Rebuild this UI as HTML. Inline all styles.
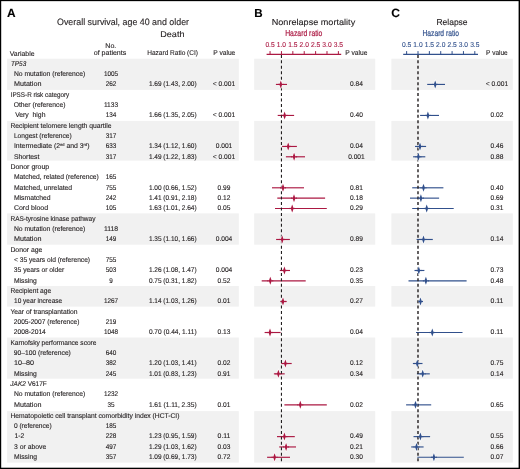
<!DOCTYPE html>
<html><head><meta charset="utf-8"><style>
html,body{margin:0;padding:0;background:#fff;}
svg{display:block;will-change:transform;}
text{font-family:"Liberation Sans", sans-serif;text-rendering:geometricPrecision;}
</style></head><body>
<svg width="520" height="469" viewBox="0 0 520 469">
<rect width="520" height="469" fill="#fff"/>
<rect x="7.1" y="58.7" width="231.70" height="31.20" fill="#f1f1f1"/>
<rect x="254.2" y="58.7" width="121.00" height="31.20" fill="#f1f1f1"/>
<rect x="391.4" y="58.7" width="121.40" height="31.20" fill="#f1f1f1"/>
<rect x="7.1" y="120.9" width="231.70" height="39.70" fill="#f1f1f1"/>
<rect x="254.2" y="120.9" width="121.00" height="39.70" fill="#f1f1f1"/>
<rect x="391.4" y="120.9" width="121.40" height="39.70" fill="#f1f1f1"/>
<rect x="7.1" y="213.4" width="231.70" height="31.30" fill="#f1f1f1"/>
<rect x="254.2" y="213.4" width="121.00" height="31.30" fill="#f1f1f1"/>
<rect x="391.4" y="213.4" width="121.40" height="31.30" fill="#f1f1f1"/>
<rect x="7.1" y="286.0" width="231.70" height="20.60" fill="#f1f1f1"/>
<rect x="254.2" y="286.0" width="121.00" height="20.60" fill="#f1f1f1"/>
<rect x="391.4" y="286.0" width="121.40" height="20.60" fill="#f1f1f1"/>
<rect x="7.1" y="337.5" width="231.70" height="41.20" fill="#f1f1f1"/>
<rect x="254.2" y="337.5" width="121.00" height="41.20" fill="#f1f1f1"/>
<rect x="391.4" y="337.5" width="121.40" height="41.20" fill="#f1f1f1"/>
<rect x="7.1" y="411.1" width="231.70" height="51.50" fill="#f1f1f1"/>
<rect x="254.2" y="411.1" width="121.00" height="51.50" fill="#f1f1f1"/>
<rect x="391.4" y="411.1" width="121.40" height="51.50" fill="#f1f1f1"/>
<text x="7.00" y="16.60" font-size="11.9" fill="#000" stroke="#000" stroke-width="0.12" font-weight="bold">A</text>
<text x="254.30" y="16.80" font-size="11.6" fill="#000" stroke="#000" stroke-width="0.12" font-weight="bold">B</text>
<text x="391.30" y="16.95" font-size="12.0" fill="#000" stroke="#000" stroke-width="0.12" font-weight="bold">C</text>
<text x="57.06" y="24.70" font-size="9.2" fill="#231f20" stroke="#231f20" stroke-width="0.12" textLength="131.99" lengthAdjust="spacingAndGlyphs">Overall survival, age 40 and older</text>
<text x="160.31" y="36.80" font-size="8.4" fill="#231f20" stroke="#231f20" stroke-width="0.12" textLength="24.18" lengthAdjust="spacingAndGlyphs">Death</text>
<text x="105.32" y="47.80" font-size="6.9" fill="#231f20" stroke="#231f20" stroke-width="0.12" textLength="10.97" lengthAdjust="spacingAndGlyphs">No.</text>
<text x="9.72" y="55.50" font-size="6.9" fill="#231f20" stroke="#231f20" stroke-width="0.12" textLength="24.87" lengthAdjust="spacingAndGlyphs">Variable</text>
<text x="93.72" y="55.40" font-size="6.9" fill="#231f20" stroke="#231f20" stroke-width="0.12" textLength="32.57" lengthAdjust="spacingAndGlyphs">of patients</text>
<text x="147.22" y="55.30" font-size="6.9" fill="#231f20" stroke="#231f20" stroke-width="0.12" textLength="50.77" lengthAdjust="spacingAndGlyphs">Hazard Ratio (CI)</text>
<text x="213.22" y="55.30" font-size="6.9" fill="#231f20" stroke="#231f20" stroke-width="0.12" textLength="22.07" lengthAdjust="spacingAndGlyphs">P value</text>
<text x="271.70" y="24.50" font-size="8.6" fill="#231f20" stroke="#231f20" stroke-width="0.12" textLength="83.50" lengthAdjust="spacingAndGlyphs">Nonrelapse mortality</text>
<text x="285.20" y="35.90" font-size="8.6" fill="#ab1842" stroke="#ab1842" stroke-width="0.2" textLength="37.20" lengthAdjust="spacingAndGlyphs">Hazard ratio</text>
<text x="345.32" y="55.20" font-size="6.9" fill="#231f20" stroke="#231f20" stroke-width="0.12" textLength="22.07" lengthAdjust="spacingAndGlyphs">P value</text>
<text x="436.40" y="24.50" font-size="8.6" fill="#231f20" stroke="#231f20" stroke-width="0.12" textLength="31.20" lengthAdjust="spacingAndGlyphs">Relapse</text>
<text x="422.50" y="35.80" font-size="8.6" fill="#31508c" stroke="#31508c" stroke-width="0.2" textLength="36.50" lengthAdjust="spacingAndGlyphs">Hazard ratio</text>
<text x="486.12" y="55.20" font-size="6.9" fill="#231f20" stroke="#231f20" stroke-width="0.12" textLength="21.57" lengthAdjust="spacingAndGlyphs">P value</text>
<line x1="266.6" y1="54.4" x2="341.2" y2="54.4" stroke="#ab1842" stroke-width="1.3"/>
<line x1="270.06" y1="51.1" x2="270.06" y2="54.4" stroke="#ab1842" stroke-width="1"/>
<text x="270.06" y="46.90" font-size="7.1" fill="#ab1842" stroke="#ab1842" stroke-width="0.12" text-anchor="middle" textLength="9.30" lengthAdjust="spacingAndGlyphs">0.5</text>
<line x1="281.45" y1="51.1" x2="281.45" y2="54.4" stroke="#ab1842" stroke-width="1"/>
<text x="281.45" y="46.90" font-size="7.1" fill="#ab1842" stroke="#ab1842" stroke-width="0.12" text-anchor="middle" textLength="9.30" lengthAdjust="spacingAndGlyphs">1.0</text>
<line x1="292.83" y1="51.1" x2="292.83" y2="54.4" stroke="#ab1842" stroke-width="1"/>
<text x="292.83" y="46.90" font-size="7.1" fill="#ab1842" stroke="#ab1842" stroke-width="0.12" text-anchor="middle" textLength="9.30" lengthAdjust="spacingAndGlyphs">1.5</text>
<line x1="304.22" y1="51.1" x2="304.22" y2="54.4" stroke="#ab1842" stroke-width="1"/>
<text x="304.22" y="46.90" font-size="7.1" fill="#ab1842" stroke="#ab1842" stroke-width="0.12" text-anchor="middle" textLength="9.30" lengthAdjust="spacingAndGlyphs">2.0</text>
<line x1="315.61" y1="51.1" x2="315.61" y2="54.4" stroke="#ab1842" stroke-width="1"/>
<text x="315.61" y="46.90" font-size="7.1" fill="#ab1842" stroke="#ab1842" stroke-width="0.12" text-anchor="middle" textLength="9.30" lengthAdjust="spacingAndGlyphs">2.5</text>
<line x1="326.99" y1="51.1" x2="326.99" y2="54.4" stroke="#ab1842" stroke-width="1"/>
<text x="326.99" y="46.90" font-size="7.1" fill="#ab1842" stroke="#ab1842" stroke-width="0.12" text-anchor="middle" textLength="9.30" lengthAdjust="spacingAndGlyphs">3.0</text>
<line x1="338.38" y1="51.1" x2="338.38" y2="54.4" stroke="#ab1842" stroke-width="1"/>
<text x="338.38" y="46.90" font-size="7.1" fill="#ab1842" stroke="#ab1842" stroke-width="0.12" text-anchor="middle" textLength="9.30" lengthAdjust="spacingAndGlyphs">3.5</text>
<line x1="403.2" y1="54.4" x2="478.0" y2="54.4" stroke="#31508c" stroke-width="1.3"/>
<line x1="406.64" y1="51.1" x2="406.64" y2="54.4" stroke="#31508c" stroke-width="1"/>
<text x="406.64" y="46.90" font-size="7.1" fill="#31508c" stroke="#31508c" stroke-width="0.12" text-anchor="middle" textLength="9.30" lengthAdjust="spacingAndGlyphs">0.5</text>
<line x1="418.00" y1="51.1" x2="418.00" y2="54.4" stroke="#31508c" stroke-width="1"/>
<text x="418.00" y="46.90" font-size="7.1" fill="#31508c" stroke="#31508c" stroke-width="0.12" text-anchor="middle" textLength="9.30" lengthAdjust="spacingAndGlyphs">1.0</text>
<line x1="429.36" y1="51.1" x2="429.36" y2="54.4" stroke="#31508c" stroke-width="1"/>
<text x="429.36" y="46.90" font-size="7.1" fill="#31508c" stroke="#31508c" stroke-width="0.12" text-anchor="middle" textLength="9.30" lengthAdjust="spacingAndGlyphs">1.5</text>
<line x1="440.72" y1="51.1" x2="440.72" y2="54.4" stroke="#31508c" stroke-width="1"/>
<text x="440.72" y="46.90" font-size="7.1" fill="#31508c" stroke="#31508c" stroke-width="0.12" text-anchor="middle" textLength="9.30" lengthAdjust="spacingAndGlyphs">2.0</text>
<line x1="452.08" y1="51.1" x2="452.08" y2="54.4" stroke="#31508c" stroke-width="1"/>
<text x="452.08" y="46.90" font-size="7.1" fill="#31508c" stroke="#31508c" stroke-width="0.12" text-anchor="middle" textLength="9.30" lengthAdjust="spacingAndGlyphs">2.5</text>
<line x1="463.44" y1="51.1" x2="463.44" y2="54.4" stroke="#31508c" stroke-width="1"/>
<text x="463.44" y="46.90" font-size="7.1" fill="#31508c" stroke="#31508c" stroke-width="0.12" text-anchor="middle" textLength="9.30" lengthAdjust="spacingAndGlyphs">3.0</text>
<line x1="474.80" y1="51.1" x2="474.80" y2="54.4" stroke="#31508c" stroke-width="1"/>
<text x="474.80" y="46.90" font-size="7.1" fill="#31508c" stroke="#31508c" stroke-width="0.12" text-anchor="middle" textLength="9.30" lengthAdjust="spacingAndGlyphs">3.5</text>
<text x="10.95" y="65.62" font-size="6.9" fill="#231f20" stroke="#231f20" stroke-width="0.12" textLength="15.30" lengthAdjust="spacingAndGlyphs" style="font-style:italic">TP53</text>
<text x="13.95" y="75.96" font-size="6.9" fill="#231f20" stroke="#231f20" stroke-width="0.12" textLength="71.30" lengthAdjust="spacingAndGlyphs" style="white-space:pre">No mutation (reference)</text>
<text x="111.00" y="75.96" font-size="6.9" fill="#231f20" stroke="#231f20" stroke-width="0.12" text-anchor="middle" textLength="14.20" lengthAdjust="spacingAndGlyphs">1005</text>
<text x="13.95" y="86.29" font-size="6.9" fill="#231f20" stroke="#231f20" stroke-width="0.12" textLength="27.50" lengthAdjust="spacingAndGlyphs" style="white-space:pre">Mutation</text>
<text x="111.00" y="86.29" font-size="6.9" fill="#231f20" stroke="#231f20" stroke-width="0.12" text-anchor="middle" textLength="10.65" lengthAdjust="spacingAndGlyphs">262</text>
<text x="172.75" y="86.29" font-size="6.9" fill="#231f20" stroke="#231f20" stroke-width="0.12" text-anchor="middle" textLength="47.70" lengthAdjust="spacingAndGlyphs">1.69 (1.43, 2.00)</text>
<text x="224.00" y="86.29" font-size="6.9" fill="#231f20" stroke="#231f20" stroke-width="0.12" text-anchor="middle" textLength="22.35" lengthAdjust="spacingAndGlyphs">&lt; 0.001</text>
<text x="356.40" y="86.29" font-size="6.9" fill="#231f20" stroke="#231f20" stroke-width="0.12" text-anchor="middle" textLength="12.85" lengthAdjust="spacingAndGlyphs">0.84</text>
<text x="497.00" y="86.29" font-size="6.9" fill="#231f20" stroke="#231f20" stroke-width="0.12" text-anchor="middle" textLength="22.35" lengthAdjust="spacingAndGlyphs">&lt; 0.001</text>
<text x="10.65" y="96.63" font-size="6.9" fill="#231f20" stroke="#231f20" stroke-width="0.12" textLength="58.60" lengthAdjust="spacingAndGlyphs" style="white-space:pre">IPSS-R risk category</text>
<text x="13.75" y="106.96" font-size="6.9" fill="#231f20" stroke="#231f20" stroke-width="0.12" textLength="51.70" lengthAdjust="spacingAndGlyphs" style="white-space:pre">Other (reference)</text>
<text x="111.00" y="106.96" font-size="6.9" fill="#231f20" stroke="#231f20" stroke-width="0.12" text-anchor="middle" textLength="14.20" lengthAdjust="spacingAndGlyphs">1133</text>
<text x="15.15" y="117.30" font-size="6.9" fill="#231f20" stroke="#231f20" stroke-width="0.12" textLength="30.30" lengthAdjust="spacingAndGlyphs" style="white-space:pre">Very  high</text>
<text x="111.00" y="117.30" font-size="6.9" fill="#231f20" stroke="#231f20" stroke-width="0.12" text-anchor="middle" textLength="10.65" lengthAdjust="spacingAndGlyphs">134</text>
<text x="172.75" y="117.30" font-size="6.9" fill="#231f20" stroke="#231f20" stroke-width="0.12" text-anchor="middle" textLength="47.70" lengthAdjust="spacingAndGlyphs">1.66 (1.35, 2.05)</text>
<text x="224.00" y="117.30" font-size="6.9" fill="#231f20" stroke="#231f20" stroke-width="0.12" text-anchor="middle" textLength="22.35" lengthAdjust="spacingAndGlyphs">&lt; 0.001</text>
<text x="356.40" y="117.30" font-size="6.9" fill="#231f20" stroke="#231f20" stroke-width="0.12" text-anchor="middle" textLength="12.85" lengthAdjust="spacingAndGlyphs">0.40</text>
<text x="497.00" y="117.30" font-size="6.9" fill="#231f20" stroke="#231f20" stroke-width="0.12" text-anchor="middle" textLength="12.85" lengthAdjust="spacingAndGlyphs">0.02</text>
<text x="10.45" y="127.64" font-size="6.9" fill="#231f20" stroke="#231f20" stroke-width="0.12" textLength="101.00" lengthAdjust="spacingAndGlyphs" style="white-space:pre">Recipient telomere length quartile</text>
<text x="13.95" y="137.97" font-size="6.9" fill="#231f20" stroke="#231f20" stroke-width="0.12" textLength="57.80" lengthAdjust="spacingAndGlyphs" style="white-space:pre">Longest (reference)</text>
<text x="111.00" y="137.97" font-size="6.9" fill="#231f20" stroke="#231f20" stroke-width="0.12" text-anchor="middle" textLength="10.65" lengthAdjust="spacingAndGlyphs">317</text>
<text x="13.95" y="148.31" font-size="6.9" fill="#231f20" stroke="#231f20" stroke-width="0.12" textLength="75.50" lengthAdjust="spacingAndGlyphs">Intermediate (2<tspan font-size="4" dy="-2.6">nd</tspan><tspan dy="2.6"> and 3</tspan><tspan font-size="4" dy="-2.6">rd</tspan><tspan dy="2.6">)</tspan></text>
<text x="111.00" y="148.31" font-size="6.9" fill="#231f20" stroke="#231f20" stroke-width="0.12" text-anchor="middle" textLength="10.65" lengthAdjust="spacingAndGlyphs">633</text>
<text x="172.75" y="148.31" font-size="6.9" fill="#231f20" stroke="#231f20" stroke-width="0.12" text-anchor="middle" textLength="47.70" lengthAdjust="spacingAndGlyphs">1.34 (1.12, 1.60)</text>
<text x="224.00" y="148.31" font-size="6.9" fill="#231f20" stroke="#231f20" stroke-width="0.12" text-anchor="middle" textLength="16.55" lengthAdjust="spacingAndGlyphs">0.001</text>
<text x="356.40" y="148.31" font-size="6.9" fill="#231f20" stroke="#231f20" stroke-width="0.12" text-anchor="middle" textLength="12.85" lengthAdjust="spacingAndGlyphs">0.04</text>
<text x="497.00" y="148.31" font-size="6.9" fill="#231f20" stroke="#231f20" stroke-width="0.12" text-anchor="middle" textLength="12.85" lengthAdjust="spacingAndGlyphs">0.46</text>
<text x="13.95" y="158.64" font-size="6.9" fill="#231f20" stroke="#231f20" stroke-width="0.12" textLength="25.50" lengthAdjust="spacingAndGlyphs" style="white-space:pre">Shortest</text>
<text x="111.00" y="158.64" font-size="6.9" fill="#231f20" stroke="#231f20" stroke-width="0.12" text-anchor="middle" textLength="10.65" lengthAdjust="spacingAndGlyphs">317</text>
<text x="172.75" y="158.64" font-size="6.9" fill="#231f20" stroke="#231f20" stroke-width="0.12" text-anchor="middle" textLength="47.70" lengthAdjust="spacingAndGlyphs">1.49 (1.22, 1.83)</text>
<text x="224.00" y="158.64" font-size="6.9" fill="#231f20" stroke="#231f20" stroke-width="0.12" text-anchor="middle" textLength="22.35" lengthAdjust="spacingAndGlyphs">&lt; 0.001</text>
<text x="356.40" y="158.64" font-size="6.9" fill="#231f20" stroke="#231f20" stroke-width="0.12" text-anchor="middle" textLength="16.55" lengthAdjust="spacingAndGlyphs">0.001</text>
<text x="497.00" y="158.64" font-size="6.9" fill="#231f20" stroke="#231f20" stroke-width="0.12" text-anchor="middle" textLength="12.85" lengthAdjust="spacingAndGlyphs">0.88</text>
<text x="10.45" y="168.98" font-size="6.9" fill="#231f20" stroke="#231f20" stroke-width="0.12" textLength="38.80" lengthAdjust="spacingAndGlyphs" style="white-space:pre">Donor group</text>
<text x="13.95" y="179.32" font-size="6.9" fill="#231f20" stroke="#231f20" stroke-width="0.12" textLength="84.80" lengthAdjust="spacingAndGlyphs" style="white-space:pre">Matched, related (reference)</text>
<text x="111.00" y="179.32" font-size="6.9" fill="#231f20" stroke="#231f20" stroke-width="0.12" text-anchor="middle" textLength="10.65" lengthAdjust="spacingAndGlyphs">165</text>
<text x="13.95" y="189.65" font-size="6.9" fill="#231f20" stroke="#231f20" stroke-width="0.12" textLength="58.20" lengthAdjust="spacingAndGlyphs" style="white-space:pre">Matched, unrelated</text>
<text x="111.00" y="189.65" font-size="6.9" fill="#231f20" stroke="#231f20" stroke-width="0.12" text-anchor="middle" textLength="10.65" lengthAdjust="spacingAndGlyphs">755</text>
<text x="172.75" y="189.65" font-size="6.9" fill="#231f20" stroke="#231f20" stroke-width="0.12" text-anchor="middle" textLength="47.70" lengthAdjust="spacingAndGlyphs">1.00 (0.66, 1.52)</text>
<text x="224.00" y="189.65" font-size="6.9" fill="#231f20" stroke="#231f20" stroke-width="0.12" text-anchor="middle" textLength="12.85" lengthAdjust="spacingAndGlyphs">0.99</text>
<text x="356.40" y="189.65" font-size="6.9" fill="#231f20" stroke="#231f20" stroke-width="0.12" text-anchor="middle" textLength="12.85" lengthAdjust="spacingAndGlyphs">0.81</text>
<text x="497.00" y="189.65" font-size="6.9" fill="#231f20" stroke="#231f20" stroke-width="0.12" text-anchor="middle" textLength="12.85" lengthAdjust="spacingAndGlyphs">0.40</text>
<text x="13.95" y="199.99" font-size="6.9" fill="#231f20" stroke="#231f20" stroke-width="0.12" textLength="36.70" lengthAdjust="spacingAndGlyphs" style="white-space:pre">Mismatched</text>
<text x="111.00" y="199.99" font-size="6.9" fill="#231f20" stroke="#231f20" stroke-width="0.12" text-anchor="middle" textLength="10.65" lengthAdjust="spacingAndGlyphs">242</text>
<text x="172.75" y="199.99" font-size="6.9" fill="#231f20" stroke="#231f20" stroke-width="0.12" text-anchor="middle" textLength="47.70" lengthAdjust="spacingAndGlyphs">1.41 (0.91, 2.18)</text>
<text x="224.00" y="199.99" font-size="6.9" fill="#231f20" stroke="#231f20" stroke-width="0.12" text-anchor="middle" textLength="12.85" lengthAdjust="spacingAndGlyphs">0.12</text>
<text x="356.40" y="199.99" font-size="6.9" fill="#231f20" stroke="#231f20" stroke-width="0.12" text-anchor="middle" textLength="12.85" lengthAdjust="spacingAndGlyphs">0.18</text>
<text x="497.00" y="199.99" font-size="6.9" fill="#231f20" stroke="#231f20" stroke-width="0.12" text-anchor="middle" textLength="12.85" lengthAdjust="spacingAndGlyphs">0.69</text>
<text x="13.95" y="210.32" font-size="6.9" fill="#231f20" stroke="#231f20" stroke-width="0.12" textLength="34.20" lengthAdjust="spacingAndGlyphs" style="white-space:pre">Cord blood</text>
<text x="111.00" y="210.32" font-size="6.9" fill="#231f20" stroke="#231f20" stroke-width="0.12" text-anchor="middle" textLength="10.65" lengthAdjust="spacingAndGlyphs">105</text>
<text x="172.75" y="210.32" font-size="6.9" fill="#231f20" stroke="#231f20" stroke-width="0.12" text-anchor="middle" textLength="47.70" lengthAdjust="spacingAndGlyphs">1.63 (1.01, 2.64)</text>
<text x="224.00" y="210.32" font-size="6.9" fill="#231f20" stroke="#231f20" stroke-width="0.12" text-anchor="middle" textLength="12.85" lengthAdjust="spacingAndGlyphs">0.05</text>
<text x="356.40" y="210.32" font-size="6.9" fill="#231f20" stroke="#231f20" stroke-width="0.12" text-anchor="middle" textLength="12.85" lengthAdjust="spacingAndGlyphs">0.29</text>
<text x="497.00" y="210.32" font-size="6.9" fill="#231f20" stroke="#231f20" stroke-width="0.12" text-anchor="middle" textLength="12.85" lengthAdjust="spacingAndGlyphs">0.31</text>
<text x="10.45" y="220.66" font-size="6.9" fill="#231f20" stroke="#231f20" stroke-width="0.12" textLength="85.00" lengthAdjust="spacingAndGlyphs" style="white-space:pre">RAS-tyrosine kinase pathway</text>
<text x="13.95" y="231.00" font-size="6.9" fill="#231f20" stroke="#231f20" stroke-width="0.12" textLength="71.30" lengthAdjust="spacingAndGlyphs" style="white-space:pre">No mutation (reference)</text>
<text x="111.00" y="231.00" font-size="6.9" fill="#231f20" stroke="#231f20" stroke-width="0.12" text-anchor="middle" textLength="14.20" lengthAdjust="spacingAndGlyphs">1118</text>
<text x="13.95" y="241.33" font-size="6.9" fill="#231f20" stroke="#231f20" stroke-width="0.12" textLength="27.50" lengthAdjust="spacingAndGlyphs" style="white-space:pre">Mutation</text>
<text x="111.00" y="241.33" font-size="6.9" fill="#231f20" stroke="#231f20" stroke-width="0.12" text-anchor="middle" textLength="10.65" lengthAdjust="spacingAndGlyphs">149</text>
<text x="172.75" y="241.33" font-size="6.9" fill="#231f20" stroke="#231f20" stroke-width="0.12" text-anchor="middle" textLength="47.70" lengthAdjust="spacingAndGlyphs">1.35 (1.10, 1.66)</text>
<text x="224.00" y="241.33" font-size="6.9" fill="#231f20" stroke="#231f20" stroke-width="0.12" text-anchor="middle" textLength="16.55" lengthAdjust="spacingAndGlyphs">0.004</text>
<text x="356.40" y="241.33" font-size="6.9" fill="#231f20" stroke="#231f20" stroke-width="0.12" text-anchor="middle" textLength="12.85" lengthAdjust="spacingAndGlyphs">0.89</text>
<text x="497.00" y="241.33" font-size="6.9" fill="#231f20" stroke="#231f20" stroke-width="0.12" text-anchor="middle" textLength="12.85" lengthAdjust="spacingAndGlyphs">0.14</text>
<text x="10.45" y="251.67" font-size="6.9" fill="#231f20" stroke="#231f20" stroke-width="0.12" textLength="31.90" lengthAdjust="spacingAndGlyphs" style="white-space:pre">Donor age</text>
<text x="14.05" y="262.00" font-size="6.9" fill="#231f20" stroke="#231f20" stroke-width="0.12" textLength="76.00" lengthAdjust="spacingAndGlyphs" style="white-space:pre">&lt; 35 years old (reference)</text>
<text x="111.00" y="262.00" font-size="6.9" fill="#231f20" stroke="#231f20" stroke-width="0.12" text-anchor="middle" textLength="10.65" lengthAdjust="spacingAndGlyphs">755</text>
<text x="13.85" y="272.34" font-size="6.9" fill="#231f20" stroke="#231f20" stroke-width="0.12" textLength="50.30" lengthAdjust="spacingAndGlyphs" style="white-space:pre">35 years or older</text>
<text x="111.00" y="272.34" font-size="6.9" fill="#231f20" stroke="#231f20" stroke-width="0.12" text-anchor="middle" textLength="10.65" lengthAdjust="spacingAndGlyphs">503</text>
<text x="172.75" y="272.34" font-size="6.9" fill="#231f20" stroke="#231f20" stroke-width="0.12" text-anchor="middle" textLength="47.70" lengthAdjust="spacingAndGlyphs">1.26 (1.08, 1.47)</text>
<text x="224.00" y="272.34" font-size="6.9" fill="#231f20" stroke="#231f20" stroke-width="0.12" text-anchor="middle" textLength="16.55" lengthAdjust="spacingAndGlyphs">0.004</text>
<text x="356.40" y="272.34" font-size="6.9" fill="#231f20" stroke="#231f20" stroke-width="0.12" text-anchor="middle" textLength="12.85" lengthAdjust="spacingAndGlyphs">0.23</text>
<text x="497.00" y="272.34" font-size="6.9" fill="#231f20" stroke="#231f20" stroke-width="0.12" text-anchor="middle" textLength="12.85" lengthAdjust="spacingAndGlyphs">0.73</text>
<text x="13.95" y="282.68" font-size="6.9" fill="#231f20" stroke="#231f20" stroke-width="0.12" textLength="22.80" lengthAdjust="spacingAndGlyphs" style="white-space:pre">Missing</text>
<text x="111.00" y="282.68" font-size="6.9" fill="#231f20" stroke="#231f20" stroke-width="0.12" text-anchor="middle" textLength="3.55" lengthAdjust="spacingAndGlyphs">9</text>
<text x="172.75" y="282.68" font-size="6.9" fill="#231f20" stroke="#231f20" stroke-width="0.12" text-anchor="middle" textLength="47.70" lengthAdjust="spacingAndGlyphs">0.75 (0.31, 1.82)</text>
<text x="224.00" y="282.68" font-size="6.9" fill="#231f20" stroke="#231f20" stroke-width="0.12" text-anchor="middle" textLength="12.85" lengthAdjust="spacingAndGlyphs">0.52</text>
<text x="356.40" y="282.68" font-size="6.9" fill="#231f20" stroke="#231f20" stroke-width="0.12" text-anchor="middle" textLength="12.85" lengthAdjust="spacingAndGlyphs">0.35</text>
<text x="497.00" y="282.68" font-size="6.9" fill="#231f20" stroke="#231f20" stroke-width="0.12" text-anchor="middle" textLength="12.85" lengthAdjust="spacingAndGlyphs">0.48</text>
<text x="10.45" y="293.01" font-size="6.9" fill="#231f20" stroke="#231f20" stroke-width="0.12" textLength="40.80" lengthAdjust="spacingAndGlyphs" style="white-space:pre">Recipient age</text>
<text x="14.05" y="303.35" font-size="6.9" fill="#231f20" stroke="#231f20" stroke-width="0.12" textLength="48.10" lengthAdjust="spacingAndGlyphs" style="white-space:pre">10 year increase</text>
<text x="111.00" y="303.35" font-size="6.9" fill="#231f20" stroke="#231f20" stroke-width="0.12" text-anchor="middle" textLength="14.20" lengthAdjust="spacingAndGlyphs">1267</text>
<text x="172.75" y="303.35" font-size="6.9" fill="#231f20" stroke="#231f20" stroke-width="0.12" text-anchor="middle" textLength="47.70" lengthAdjust="spacingAndGlyphs">1.14 (1.03, 1.26)</text>
<text x="224.00" y="303.35" font-size="6.9" fill="#231f20" stroke="#231f20" stroke-width="0.12" text-anchor="middle" textLength="12.85" lengthAdjust="spacingAndGlyphs">0.01</text>
<text x="356.40" y="303.35" font-size="6.9" fill="#231f20" stroke="#231f20" stroke-width="0.12" text-anchor="middle" textLength="12.85" lengthAdjust="spacingAndGlyphs">0.27</text>
<text x="497.00" y="303.35" font-size="6.9" fill="#231f20" stroke="#231f20" stroke-width="0.12" text-anchor="middle" textLength="12.85" lengthAdjust="spacingAndGlyphs">0.11</text>
<text x="10.45" y="313.68" font-size="6.9" fill="#231f20" stroke="#231f20" stroke-width="0.12" textLength="67.10" lengthAdjust="spacingAndGlyphs" style="white-space:pre">Year of transplantation</text>
<text x="13.85" y="324.02" font-size="6.9" fill="#231f20" stroke="#231f20" stroke-width="0.12" textLength="65.60" lengthAdjust="spacingAndGlyphs" style="white-space:pre">2005-2007 (reference)</text>
<text x="111.00" y="324.02" font-size="6.9" fill="#231f20" stroke="#231f20" stroke-width="0.12" text-anchor="middle" textLength="10.65" lengthAdjust="spacingAndGlyphs">219</text>
<text x="13.85" y="334.36" font-size="6.9" fill="#231f20" stroke="#231f20" stroke-width="0.12" textLength="32.00" lengthAdjust="spacingAndGlyphs" style="white-space:pre">2008-2014</text>
<text x="111.00" y="334.36" font-size="6.9" fill="#231f20" stroke="#231f20" stroke-width="0.12" text-anchor="middle" textLength="14.20" lengthAdjust="spacingAndGlyphs">1048</text>
<text x="172.75" y="334.36" font-size="6.9" fill="#231f20" stroke="#231f20" stroke-width="0.12" text-anchor="middle" textLength="47.70" lengthAdjust="spacingAndGlyphs">0.70 (0.44, 1.11)</text>
<text x="224.00" y="334.36" font-size="6.9" fill="#231f20" stroke="#231f20" stroke-width="0.12" text-anchor="middle" textLength="12.85" lengthAdjust="spacingAndGlyphs">0.13</text>
<text x="356.40" y="334.36" font-size="6.9" fill="#231f20" stroke="#231f20" stroke-width="0.12" text-anchor="middle" textLength="12.85" lengthAdjust="spacingAndGlyphs">0.04</text>
<text x="497.00" y="334.36" font-size="6.9" fill="#231f20" stroke="#231f20" stroke-width="0.12" text-anchor="middle" textLength="12.85" lengthAdjust="spacingAndGlyphs">0.11</text>
<text x="10.45" y="344.69" font-size="6.9" fill="#231f20" stroke="#231f20" stroke-width="0.12" textLength="86.00" lengthAdjust="spacingAndGlyphs" style="white-space:pre">Karnofsky performance score</text>
<text x="13.85" y="355.03" font-size="6.9" fill="#231f20" stroke="#231f20" stroke-width="0.12" textLength="57.00" lengthAdjust="spacingAndGlyphs" style="white-space:pre">90–100 (reference)</text>
<text x="111.00" y="355.03" font-size="6.9" fill="#231f20" stroke="#231f20" stroke-width="0.12" text-anchor="middle" textLength="10.65" lengthAdjust="spacingAndGlyphs">640</text>
<text x="13.95" y="365.36" font-size="6.9" fill="#231f20" stroke="#231f20" stroke-width="0.12" textLength="20.00" lengthAdjust="spacingAndGlyphs" style="white-space:pre">10–80</text>
<text x="111.00" y="365.36" font-size="6.9" fill="#231f20" stroke="#231f20" stroke-width="0.12" text-anchor="middle" textLength="10.65" lengthAdjust="spacingAndGlyphs">382</text>
<text x="172.75" y="365.36" font-size="6.9" fill="#231f20" stroke="#231f20" stroke-width="0.12" text-anchor="middle" textLength="47.70" lengthAdjust="spacingAndGlyphs">1.20 (1.03, 1.41)</text>
<text x="224.00" y="365.36" font-size="6.9" fill="#231f20" stroke="#231f20" stroke-width="0.12" text-anchor="middle" textLength="12.85" lengthAdjust="spacingAndGlyphs">0.02</text>
<text x="356.40" y="365.36" font-size="6.9" fill="#231f20" stroke="#231f20" stroke-width="0.12" text-anchor="middle" textLength="12.85" lengthAdjust="spacingAndGlyphs">0.12</text>
<text x="497.00" y="365.36" font-size="6.9" fill="#231f20" stroke="#231f20" stroke-width="0.12" text-anchor="middle" textLength="12.85" lengthAdjust="spacingAndGlyphs">0.75</text>
<text x="13.95" y="375.70" font-size="6.9" fill="#231f20" stroke="#231f20" stroke-width="0.12" textLength="22.80" lengthAdjust="spacingAndGlyphs" style="white-space:pre">Missing</text>
<text x="111.00" y="375.70" font-size="6.9" fill="#231f20" stroke="#231f20" stroke-width="0.12" text-anchor="middle" textLength="10.65" lengthAdjust="spacingAndGlyphs">245</text>
<text x="172.75" y="375.70" font-size="6.9" fill="#231f20" stroke="#231f20" stroke-width="0.12" text-anchor="middle" textLength="47.70" lengthAdjust="spacingAndGlyphs">1.01 (0.83, 1.23)</text>
<text x="224.00" y="375.70" font-size="6.9" fill="#231f20" stroke="#231f20" stroke-width="0.12" text-anchor="middle" textLength="12.85" lengthAdjust="spacingAndGlyphs">0.91</text>
<text x="356.40" y="375.70" font-size="6.9" fill="#231f20" stroke="#231f20" stroke-width="0.12" text-anchor="middle" textLength="12.85" lengthAdjust="spacingAndGlyphs">0.34</text>
<text x="497.00" y="375.70" font-size="6.9" fill="#231f20" stroke="#231f20" stroke-width="0.12" text-anchor="middle" textLength="12.85" lengthAdjust="spacingAndGlyphs">0.14</text>
<text x="10.35" y="386.04" font-size="6.9" fill="#231f20" stroke="#231f20" stroke-width="0.12" textLength="36.40" lengthAdjust="spacingAndGlyphs"><tspan font-style="italic">JAK2</tspan> V617F</text>
<text x="13.95" y="396.37" font-size="6.9" fill="#231f20" stroke="#231f20" stroke-width="0.12" textLength="71.30" lengthAdjust="spacingAndGlyphs" style="white-space:pre">No mutation (reference)</text>
<text x="111.00" y="396.37" font-size="6.9" fill="#231f20" stroke="#231f20" stroke-width="0.12" text-anchor="middle" textLength="14.20" lengthAdjust="spacingAndGlyphs">1232</text>
<text x="13.95" y="406.71" font-size="6.9" fill="#231f20" stroke="#231f20" stroke-width="0.12" textLength="27.50" lengthAdjust="spacingAndGlyphs" style="white-space:pre">Mutation</text>
<text x="111.00" y="406.71" font-size="6.9" fill="#231f20" stroke="#231f20" stroke-width="0.12" text-anchor="middle" textLength="7.10" lengthAdjust="spacingAndGlyphs">35</text>
<text x="172.75" y="406.71" font-size="6.9" fill="#231f20" stroke="#231f20" stroke-width="0.12" text-anchor="middle" textLength="47.70" lengthAdjust="spacingAndGlyphs">1.61 (1.11, 2.35)</text>
<text x="224.00" y="406.71" font-size="6.9" fill="#231f20" stroke="#231f20" stroke-width="0.12" text-anchor="middle" textLength="12.85" lengthAdjust="spacingAndGlyphs">0.01</text>
<text x="356.40" y="406.71" font-size="6.9" fill="#231f20" stroke="#231f20" stroke-width="0.12" text-anchor="middle" textLength="12.85" lengthAdjust="spacingAndGlyphs">0.02</text>
<text x="497.00" y="406.71" font-size="6.9" fill="#231f20" stroke="#231f20" stroke-width="0.12" text-anchor="middle" textLength="12.85" lengthAdjust="spacingAndGlyphs">0.65</text>
<text x="10.45" y="417.79" font-size="6.9" fill="#231f20" stroke="#231f20" stroke-width="0.12" textLength="169.00" lengthAdjust="spacingAndGlyphs" style="white-space:pre">Hematopoietic cell transplant comorbidity index (HCT-CI)</text>
<text x="13.95" y="428.13" font-size="6.9" fill="#231f20" stroke="#231f20" stroke-width="0.12" textLength="37.70" lengthAdjust="spacingAndGlyphs" style="white-space:pre">0 (reference)</text>
<text x="111.00" y="428.13" font-size="6.9" fill="#231f20" stroke="#231f20" stroke-width="0.12" text-anchor="middle" textLength="10.65" lengthAdjust="spacingAndGlyphs">185</text>
<text x="14.45" y="438.47" font-size="6.9" fill="#231f20" stroke="#231f20" stroke-width="0.12" textLength="9.80" lengthAdjust="spacingAndGlyphs" style="white-space:pre">1-2</text>
<text x="111.00" y="438.47" font-size="6.9" fill="#231f20" stroke="#231f20" stroke-width="0.12" text-anchor="middle" textLength="10.65" lengthAdjust="spacingAndGlyphs">228</text>
<text x="172.75" y="438.47" font-size="6.9" fill="#231f20" stroke="#231f20" stroke-width="0.12" text-anchor="middle" textLength="47.70" lengthAdjust="spacingAndGlyphs">1.23 (0.95, 1.59)</text>
<text x="224.00" y="438.47" font-size="6.9" fill="#231f20" stroke="#231f20" stroke-width="0.12" text-anchor="middle" textLength="12.85" lengthAdjust="spacingAndGlyphs">0.11</text>
<text x="356.40" y="438.47" font-size="6.9" fill="#231f20" stroke="#231f20" stroke-width="0.12" text-anchor="middle" textLength="12.85" lengthAdjust="spacingAndGlyphs">0.49</text>
<text x="497.00" y="438.47" font-size="6.9" fill="#231f20" stroke="#231f20" stroke-width="0.12" text-anchor="middle" textLength="12.85" lengthAdjust="spacingAndGlyphs">0.55</text>
<text x="14.05" y="448.80" font-size="6.9" fill="#231f20" stroke="#231f20" stroke-width="0.12" textLength="32.20" lengthAdjust="spacingAndGlyphs" style="white-space:pre">3 or above</text>
<text x="111.00" y="448.80" font-size="6.9" fill="#231f20" stroke="#231f20" stroke-width="0.12" text-anchor="middle" textLength="10.65" lengthAdjust="spacingAndGlyphs">497</text>
<text x="172.75" y="448.80" font-size="6.9" fill="#231f20" stroke="#231f20" stroke-width="0.12" text-anchor="middle" textLength="47.70" lengthAdjust="spacingAndGlyphs">1.29 (1.03, 1.62)</text>
<text x="224.00" y="448.80" font-size="6.9" fill="#231f20" stroke="#231f20" stroke-width="0.12" text-anchor="middle" textLength="12.85" lengthAdjust="spacingAndGlyphs">0.03</text>
<text x="356.40" y="448.80" font-size="6.9" fill="#231f20" stroke="#231f20" stroke-width="0.12" text-anchor="middle" textLength="12.85" lengthAdjust="spacingAndGlyphs">0.21</text>
<text x="497.00" y="448.80" font-size="6.9" fill="#231f20" stroke="#231f20" stroke-width="0.12" text-anchor="middle" textLength="12.85" lengthAdjust="spacingAndGlyphs">0.66</text>
<text x="14.05" y="459.14" font-size="6.9" fill="#231f20" stroke="#231f20" stroke-width="0.12" textLength="22.90" lengthAdjust="spacingAndGlyphs" style="white-space:pre">Missing</text>
<text x="111.00" y="459.14" font-size="6.9" fill="#231f20" stroke="#231f20" stroke-width="0.12" text-anchor="middle" textLength="10.65" lengthAdjust="spacingAndGlyphs">357</text>
<text x="172.75" y="459.14" font-size="6.9" fill="#231f20" stroke="#231f20" stroke-width="0.12" text-anchor="middle" textLength="47.70" lengthAdjust="spacingAndGlyphs">1.09 (0.69, 1.73)</text>
<text x="224.00" y="459.14" font-size="6.9" fill="#231f20" stroke="#231f20" stroke-width="0.12" text-anchor="middle" textLength="12.85" lengthAdjust="spacingAndGlyphs">0.72</text>
<text x="356.40" y="459.14" font-size="6.9" fill="#231f20" stroke="#231f20" stroke-width="0.12" text-anchor="middle" textLength="12.85" lengthAdjust="spacingAndGlyphs">0.30</text>
<text x="497.00" y="459.14" font-size="6.9" fill="#231f20" stroke="#231f20" stroke-width="0.12" text-anchor="middle" textLength="12.85" lengthAdjust="spacingAndGlyphs">0.07</text>
<line x1="275.9" y1="84.44" x2="287.0" y2="84.44" stroke="#ab1842" stroke-width="1.15"/>
<line x1="277.7" y1="115.45" x2="294.1" y2="115.45" stroke="#ab1842" stroke-width="1.15"/>
<line x1="282.1" y1="146.46" x2="296.9" y2="146.46" stroke="#ab1842" stroke-width="1.15"/>
<line x1="285.9" y1="156.79" x2="305.0" y2="156.79" stroke="#ab1842" stroke-width="1.15"/>
<line x1="272.0" y1="187.80" x2="304.0" y2="187.80" stroke="#ab1842" stroke-width="1.15"/>
<line x1="277.3" y1="198.14" x2="325.1" y2="198.14" stroke="#ab1842" stroke-width="1.15"/>
<line x1="275.0" y1="208.47" x2="326.8" y2="208.47" stroke="#ab1842" stroke-width="1.15"/>
<line x1="276.1" y1="239.48" x2="289.9" y2="239.48" stroke="#ab1842" stroke-width="1.15"/>
<line x1="279.8" y1="270.49" x2="290.0" y2="270.49" stroke="#ab1842" stroke-width="1.15"/>
<line x1="261.7" y1="280.83" x2="305.7" y2="280.83" stroke="#ab1842" stroke-width="1.15"/>
<line x1="280.6" y1="301.50" x2="286.7" y2="301.50" stroke="#ab1842" stroke-width="1.15"/>
<line x1="264.6" y1="332.51" x2="280.6" y2="332.51" stroke="#ab1842" stroke-width="1.15"/>
<line x1="281.2" y1="363.51" x2="291.7" y2="363.51" stroke="#ab1842" stroke-width="1.15"/>
<line x1="273.9" y1="373.85" x2="284.7" y2="373.85" stroke="#ab1842" stroke-width="1.15"/>
<line x1="284.4" y1="404.86" x2="326.8" y2="404.86" stroke="#ab1842" stroke-width="1.15"/>
<line x1="277.0" y1="436.62" x2="294.8" y2="436.62" stroke="#ab1842" stroke-width="1.15"/>
<line x1="279.2" y1="446.95" x2="296.0" y2="446.95" stroke="#ab1842" stroke-width="1.15"/>
<line x1="267.1" y1="457.29" x2="290.0" y2="457.29" stroke="#ab1842" stroke-width="1.15"/>
<line x1="427.2" y1="84.44" x2="445.0" y2="84.44" stroke="#31508c" stroke-width="1.15"/>
<line x1="420.1" y1="115.45" x2="439.0" y2="115.45" stroke="#31508c" stroke-width="1.15"/>
<line x1="415.0" y1="146.46" x2="426.1" y2="146.46" stroke="#31508c" stroke-width="1.15"/>
<line x1="413.1" y1="156.79" x2="425.3" y2="156.79" stroke="#31508c" stroke-width="1.15"/>
<line x1="412.2" y1="187.80" x2="443.4" y2="187.80" stroke="#31508c" stroke-width="1.15"/>
<line x1="410.0" y1="198.14" x2="439.1" y2="198.14" stroke="#31508c" stroke-width="1.15"/>
<line x1="412.2" y1="208.47" x2="453.7" y2="208.47" stroke="#31508c" stroke-width="1.15"/>
<line x1="416.6" y1="239.48" x2="432.8" y2="239.48" stroke="#31508c" stroke-width="1.15"/>
<line x1="414.5" y1="270.49" x2="424.4" y2="270.49" stroke="#31508c" stroke-width="1.15"/>
<line x1="408.5" y1="280.83" x2="466.6" y2="280.83" stroke="#31508c" stroke-width="1.15"/>
<line x1="418.3" y1="301.50" x2="423.0" y2="301.50" stroke="#31508c" stroke-width="1.15"/>
<line x1="416.0" y1="332.51" x2="462.5" y2="332.51" stroke="#31508c" stroke-width="1.15"/>
<line x1="412.9" y1="363.51" x2="422.5" y2="363.51" stroke="#31508c" stroke-width="1.15"/>
<line x1="416.9" y1="373.85" x2="429.8" y2="373.85" stroke="#31508c" stroke-width="1.15"/>
<line x1="406.1" y1="404.86" x2="431.2" y2="404.86" stroke="#31508c" stroke-width="1.15"/>
<line x1="413.5" y1="436.62" x2="430.1" y2="436.62" stroke="#31508c" stroke-width="1.15"/>
<line x1="411.2" y1="446.95" x2="423.6" y2="446.95" stroke="#31508c" stroke-width="1.15"/>
<line x1="417.3" y1="457.29" x2="463.8" y2="457.29" stroke="#31508c" stroke-width="1.15"/>
<line x1="281.45" y1="54.9" x2="281.45" y2="462.7" stroke="#231f20" stroke-width="1.1" stroke-dasharray="3 2.45"/>
<line x1="418.0" y1="54.9" x2="418.0" y2="462.7" stroke="#231f20" stroke-width="1.4" stroke-dasharray="3 2.45"/>
<path d="M280.8 80.44L282.25 84.44L280.8 88.44L279.35 84.44Z" fill="#fff" stroke="#fff" stroke-width="1.2" stroke-opacity="0.8"/>
<line x1="277.8" y1="84.44" x2="283.8" y2="84.44" stroke="#ab1842" stroke-width="1.15"/>
<path d="M280.8 80.44L282.25 84.44L280.8 88.44L279.35 84.44Z" fill="#ab1842"/>
<path d="M284.6 111.45L286.05 115.45L284.6 119.45L283.15 115.45Z" fill="#fff" stroke="#fff" stroke-width="1.2" stroke-opacity="0.8"/>
<line x1="281.6" y1="115.45" x2="287.6" y2="115.45" stroke="#ab1842" stroke-width="1.15"/>
<path d="M284.6 111.45L286.05 115.45L284.6 119.45L283.15 115.45Z" fill="#ab1842"/>
<path d="M288.2 142.46L289.65 146.46L288.2 150.46L286.75 146.46Z" fill="#fff" stroke="#fff" stroke-width="1.2" stroke-opacity="0.8"/>
<line x1="285.2" y1="146.46" x2="291.2" y2="146.46" stroke="#ab1842" stroke-width="1.15"/>
<path d="M288.2 142.46L289.65 146.46L288.2 150.46L286.75 146.46Z" fill="#ab1842"/>
<path d="M294.1 152.79L295.55 156.79L294.1 160.79L292.65 156.79Z" fill="#fff" stroke="#fff" stroke-width="1.2" stroke-opacity="0.8"/>
<line x1="291.1" y1="156.79" x2="297.1" y2="156.79" stroke="#ab1842" stroke-width="1.15"/>
<path d="M294.1 152.79L295.55 156.79L294.1 160.79L292.65 156.79Z" fill="#ab1842"/>
<path d="M283.0 183.80L284.45 187.80L283.0 191.80L281.55 187.80Z" fill="#fff" stroke="#fff" stroke-width="1.2" stroke-opacity="0.8"/>
<line x1="280.0" y1="187.80" x2="286.0" y2="187.80" stroke="#ab1842" stroke-width="1.15"/>
<path d="M283.0 183.80L284.45 187.80L283.0 191.80L281.55 187.80Z" fill="#ab1842"/>
<path d="M294.0 194.14L295.45 198.14L294.0 202.14L292.55 198.14Z" fill="#fff" stroke="#fff" stroke-width="1.2" stroke-opacity="0.8"/>
<line x1="291.0" y1="198.14" x2="297.0" y2="198.14" stroke="#ab1842" stroke-width="1.15"/>
<path d="M294.0 194.14L295.45 198.14L294.0 202.14L292.55 198.14Z" fill="#ab1842"/>
<path d="M292.2 204.47L293.65 208.47L292.2 212.47L290.75 208.47Z" fill="#fff" stroke="#fff" stroke-width="1.2" stroke-opacity="0.8"/>
<line x1="289.2" y1="208.47" x2="295.2" y2="208.47" stroke="#ab1842" stroke-width="1.15"/>
<path d="M292.2 204.47L293.65 208.47L292.2 212.47L290.75 208.47Z" fill="#ab1842"/>
<path d="M282.2 235.48L283.65 239.48L282.2 243.48L280.75 239.48Z" fill="#fff" stroke="#fff" stroke-width="1.2" stroke-opacity="0.8"/>
<line x1="279.2" y1="239.48" x2="285.2" y2="239.48" stroke="#ab1842" stroke-width="1.15"/>
<path d="M282.2 235.48L283.65 239.48L282.2 243.48L280.75 239.48Z" fill="#ab1842"/>
<path d="M284.4 266.49L285.85 270.49L284.4 274.49L282.95 270.49Z" fill="#fff" stroke="#fff" stroke-width="1.2" stroke-opacity="0.8"/>
<line x1="281.4" y1="270.49" x2="287.4" y2="270.49" stroke="#ab1842" stroke-width="1.15"/>
<path d="M284.4 266.49L285.85 270.49L284.4 274.49L282.95 270.49Z" fill="#ab1842"/>
<path d="M270.3 276.83L271.75 280.83L270.3 284.83L268.85 280.83Z" fill="#fff" stroke="#fff" stroke-width="1.2" stroke-opacity="0.8"/>
<line x1="267.3" y1="280.83" x2="273.3" y2="280.83" stroke="#ab1842" stroke-width="1.15"/>
<path d="M270.3 276.83L271.75 280.83L270.3 284.83L268.85 280.83Z" fill="#ab1842"/>
<path d="M283.0 297.50L284.45 301.50L283.0 305.50L281.55 301.50Z" fill="#fff" stroke="#fff" stroke-width="1.2" stroke-opacity="0.8"/>
<line x1="280.6" y1="301.50" x2="286.0" y2="301.50" stroke="#ab1842" stroke-width="1.15"/>
<path d="M283.0 297.50L284.45 301.50L283.0 305.50L281.55 301.50Z" fill="#ab1842"/>
<path d="M270.0 328.51L271.45 332.51L270.0 336.51L268.55 332.51Z" fill="#fff" stroke="#fff" stroke-width="1.2" stroke-opacity="0.8"/>
<line x1="267.0" y1="332.51" x2="273.0" y2="332.51" stroke="#ab1842" stroke-width="1.15"/>
<path d="M270.0 328.51L271.45 332.51L270.0 336.51L268.55 332.51Z" fill="#ab1842"/>
<path d="M285.4 359.51L286.85 363.51L285.4 367.51L283.95 363.51Z" fill="#fff" stroke="#fff" stroke-width="1.2" stroke-opacity="0.8"/>
<line x1="282.4" y1="363.51" x2="288.4" y2="363.51" stroke="#ab1842" stroke-width="1.15"/>
<path d="M285.4 359.51L286.85 363.51L285.4 367.51L283.95 363.51Z" fill="#ab1842"/>
<path d="M278.4 369.85L279.85 373.85L278.4 377.85L276.95 373.85Z" fill="#fff" stroke="#fff" stroke-width="1.2" stroke-opacity="0.8"/>
<line x1="275.4" y1="373.85" x2="281.4" y2="373.85" stroke="#ab1842" stroke-width="1.15"/>
<path d="M278.4 369.85L279.85 373.85L278.4 377.85L276.95 373.85Z" fill="#ab1842"/>
<path d="M300.3 400.86L301.75 404.86L300.3 408.86L298.85 404.86Z" fill="#fff" stroke="#fff" stroke-width="1.2" stroke-opacity="0.8"/>
<line x1="297.3" y1="404.86" x2="303.3" y2="404.86" stroke="#ab1842" stroke-width="1.15"/>
<path d="M300.3 400.86L301.75 404.86L300.3 408.86L298.85 404.86Z" fill="#ab1842"/>
<path d="M284.4 432.62L285.85 436.62L284.4 440.62L282.95 436.62Z" fill="#fff" stroke="#fff" stroke-width="1.2" stroke-opacity="0.8"/>
<line x1="281.4" y1="436.62" x2="287.4" y2="436.62" stroke="#ab1842" stroke-width="1.15"/>
<path d="M284.4 432.62L285.85 436.62L284.4 440.62L282.95 436.62Z" fill="#ab1842"/>
<path d="M286.1 442.95L287.55 446.95L286.1 450.95L284.65 446.95Z" fill="#fff" stroke="#fff" stroke-width="1.2" stroke-opacity="0.8"/>
<line x1="283.1" y1="446.95" x2="289.1" y2="446.95" stroke="#ab1842" stroke-width="1.15"/>
<path d="M286.1 442.95L287.55 446.95L286.1 450.95L284.65 446.95Z" fill="#ab1842"/>
<path d="M274.6 453.29L276.05 457.29L274.6 461.29L273.15 457.29Z" fill="#fff" stroke="#fff" stroke-width="1.2" stroke-opacity="0.8"/>
<line x1="271.6" y1="457.29" x2="277.6" y2="457.29" stroke="#ab1842" stroke-width="1.15"/>
<path d="M274.6 453.29L276.05 457.29L274.6 461.29L273.15 457.29Z" fill="#ab1842"/>
<path d="M435.2 80.44L436.65 84.44L435.2 88.44L433.75 84.44Z" fill="#fff" stroke="#fff" stroke-width="1.2" stroke-opacity="0.8"/>
<line x1="432.2" y1="84.44" x2="438.2" y2="84.44" stroke="#31508c" stroke-width="1.15"/>
<path d="M435.2 80.44L436.65 84.44L435.2 88.44L433.75 84.44Z" fill="#31508c"/>
<path d="M427.9 111.45L429.35 115.45L427.9 119.45L426.45 115.45Z" fill="#fff" stroke="#fff" stroke-width="1.2" stroke-opacity="0.8"/>
<line x1="424.9" y1="115.45" x2="430.9" y2="115.45" stroke="#31508c" stroke-width="1.15"/>
<path d="M427.9 111.45L429.35 115.45L427.9 119.45L426.45 115.45Z" fill="#31508c"/>
<path d="M420.0 142.46L421.45 146.46L420.0 150.46L418.55 146.46Z" fill="#fff" stroke="#fff" stroke-width="1.2" stroke-opacity="0.8"/>
<line x1="417.0" y1="146.46" x2="423.0" y2="146.46" stroke="#31508c" stroke-width="1.15"/>
<path d="M420.0 142.46L421.45 146.46L420.0 150.46L418.55 146.46Z" fill="#31508c"/>
<path d="M418.4 152.79L419.85 156.79L418.4 160.79L416.95 156.79Z" fill="#fff" stroke="#fff" stroke-width="1.2" stroke-opacity="0.8"/>
<line x1="415.4" y1="156.79" x2="421.4" y2="156.79" stroke="#31508c" stroke-width="1.15"/>
<path d="M418.4 152.79L419.85 156.79L418.4 160.79L416.95 156.79Z" fill="#31508c"/>
<path d="M423.5 183.80L424.95 187.80L423.5 191.80L422.05 187.80Z" fill="#fff" stroke="#fff" stroke-width="1.2" stroke-opacity="0.8"/>
<line x1="420.5" y1="187.80" x2="426.5" y2="187.80" stroke="#31508c" stroke-width="1.15"/>
<path d="M423.5 183.80L424.95 187.80L423.5 191.80L422.05 187.80Z" fill="#31508c"/>
<path d="M420.9 194.14L422.35 198.14L420.9 202.14L419.45 198.14Z" fill="#fff" stroke="#fff" stroke-width="1.2" stroke-opacity="0.8"/>
<line x1="417.9" y1="198.14" x2="423.9" y2="198.14" stroke="#31508c" stroke-width="1.15"/>
<path d="M420.9 194.14L422.35 198.14L420.9 202.14L419.45 198.14Z" fill="#31508c"/>
<path d="M426.7 204.47L428.15 208.47L426.7 212.47L425.25 208.47Z" fill="#fff" stroke="#fff" stroke-width="1.2" stroke-opacity="0.8"/>
<line x1="423.7" y1="208.47" x2="429.7" y2="208.47" stroke="#31508c" stroke-width="1.15"/>
<path d="M426.7 204.47L428.15 208.47L426.7 212.47L425.25 208.47Z" fill="#31508c"/>
<path d="M423.5 235.48L424.95 239.48L423.5 243.48L422.05 239.48Z" fill="#fff" stroke="#fff" stroke-width="1.2" stroke-opacity="0.8"/>
<line x1="420.5" y1="239.48" x2="426.5" y2="239.48" stroke="#31508c" stroke-width="1.15"/>
<path d="M423.5 235.48L424.95 239.48L423.5 243.48L422.05 239.48Z" fill="#31508c"/>
<path d="M418.8 266.49L420.25 270.49L418.8 274.49L417.35 270.49Z" fill="#fff" stroke="#fff" stroke-width="1.2" stroke-opacity="0.8"/>
<line x1="415.8" y1="270.49" x2="421.8" y2="270.49" stroke="#31508c" stroke-width="1.15"/>
<path d="M418.8 266.49L420.25 270.49L418.8 274.49L417.35 270.49Z" fill="#31508c"/>
<path d="M425.9 276.83L427.35 280.83L425.9 284.83L424.45 280.83Z" fill="#fff" stroke="#fff" stroke-width="1.2" stroke-opacity="0.8"/>
<line x1="422.9" y1="280.83" x2="428.9" y2="280.83" stroke="#31508c" stroke-width="1.15"/>
<path d="M425.9 276.83L427.35 280.83L425.9 284.83L424.45 280.83Z" fill="#31508c"/>
<path d="M420.5 297.50L421.95 301.50L420.5 305.50L419.05 301.50Z" fill="#fff" stroke="#fff" stroke-width="1.2" stroke-opacity="0.8"/>
<line x1="418.3" y1="301.50" x2="423.0" y2="301.50" stroke="#31508c" stroke-width="1.15"/>
<path d="M420.5 297.50L421.95 301.50L420.5 305.50L419.05 301.50Z" fill="#31508c"/>
<path d="M432.3 328.51L433.75 332.51L432.3 336.51L430.85 332.51Z" fill="#fff" stroke="#fff" stroke-width="1.2" stroke-opacity="0.8"/>
<line x1="429.3" y1="332.51" x2="435.3" y2="332.51" stroke="#31508c" stroke-width="1.15"/>
<path d="M432.3 328.51L433.75 332.51L432.3 336.51L430.85 332.51Z" fill="#31508c"/>
<path d="M417.3 359.51L418.75 363.51L417.3 367.51L415.85 363.51Z" fill="#fff" stroke="#fff" stroke-width="1.2" stroke-opacity="0.8"/>
<line x1="414.3" y1="363.51" x2="420.3" y2="363.51" stroke="#31508c" stroke-width="1.15"/>
<path d="M417.3 359.51L418.75 363.51L417.3 367.51L415.85 363.51Z" fill="#31508c"/>
<path d="M422.7 369.85L424.15 373.85L422.7 377.85L421.25 373.85Z" fill="#fff" stroke="#fff" stroke-width="1.2" stroke-opacity="0.8"/>
<line x1="419.7" y1="373.85" x2="425.7" y2="373.85" stroke="#31508c" stroke-width="1.15"/>
<path d="M422.7 369.85L424.15 373.85L422.7 377.85L421.25 373.85Z" fill="#31508c"/>
<path d="M415.5 400.86L416.95 404.86L415.5 408.86L414.05 404.86Z" fill="#fff" stroke="#fff" stroke-width="1.2" stroke-opacity="0.8"/>
<line x1="412.5" y1="404.86" x2="418.5" y2="404.86" stroke="#31508c" stroke-width="1.15"/>
<path d="M415.5 400.86L416.95 404.86L415.5 408.86L414.05 404.86Z" fill="#31508c"/>
<path d="M420.4 432.62L421.85 436.62L420.4 440.62L418.95 436.62Z" fill="#fff" stroke="#fff" stroke-width="1.2" stroke-opacity="0.8"/>
<line x1="417.4" y1="436.62" x2="423.4" y2="436.62" stroke="#31508c" stroke-width="1.15"/>
<path d="M420.4 432.62L421.85 436.62L420.4 440.62L418.95 436.62Z" fill="#31508c"/>
<path d="M416.5 442.95L417.95 446.95L416.5 450.95L415.05 446.95Z" fill="#fff" stroke="#fff" stroke-width="1.2" stroke-opacity="0.8"/>
<line x1="413.5" y1="446.95" x2="419.5" y2="446.95" stroke="#31508c" stroke-width="1.15"/>
<path d="M416.5 442.95L417.95 446.95L416.5 450.95L415.05 446.95Z" fill="#31508c"/>
<path d="M433.9 453.29L435.35 457.29L433.9 461.29L432.45 457.29Z" fill="#fff" stroke="#fff" stroke-width="1.2" stroke-opacity="0.8"/>
<line x1="430.9" y1="457.29" x2="436.9" y2="457.29" stroke="#31508c" stroke-width="1.15"/>
<path d="M433.9 453.29L435.35 457.29L433.9 461.29L432.45 457.29Z" fill="#31508c"/>
<rect x="0" y="0" width="520" height="1.15" fill="#000"/>
<rect x="0" y="0" width="1.2" height="469" fill="#000"/>
<rect x="518.6" y="0" width="1.4" height="469" fill="#000"/>
<rect x="0" y="467.7" width="520" height="1.3" fill="#000"/>
</svg>
</body></html>
